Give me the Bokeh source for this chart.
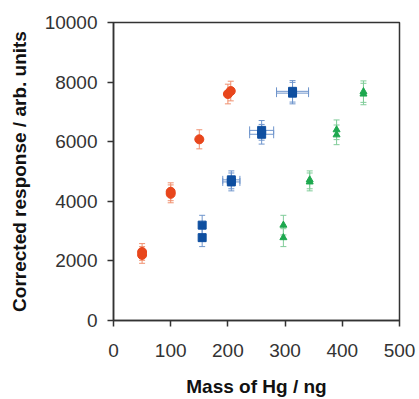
from bokeh.plotting import figure
from bokeh.models import ColumnDataSource, Whisker, TeeHead, FixedTicker, Range1d
from bokeh.embed import file_html
from bokeh.resources import INLINE

# Red circles
red_x = [50, 50, 100, 100, 150, 200, 205]
red_y = [2200, 2300, 4250, 4320, 6080, 7600, 7700]
red_ey = [280, 280, 300, 300, 320, 330, 330]
red_ex = [0, 0, 0, 0, 0, 0, 0]

# Blue squares
blue_x = [155, 155, 206, 206, 259, 259, 313, 313]
blue_y = [2780, 3200, 4650, 4720, 6250, 6380, 7630, 7690]
blue_ey = [300, 330, 300, 300, 330, 330, 360, 360]
blue_ex = [5, 5, 15, 15, 21, 21, 28, 28]

# Green triangles
green_x = [297, 297, 343, 343, 390, 390, 437, 437]
green_y = [2780, 3200, 4650, 4720, 6230, 6400, 7600, 7680]
green_ey = [300, 330, 300, 300, 330, 330, 360, 360]
green_ex = [0, 0, 0, 0, 0, 0, 0, 0]

x_ticks = [0, 100, 200, 300, 400, 500]
y_ticks = [0, 2000, 4000, 6000, 8000, 10000]

FONT = "Liberation Sans"

p = figure(width=419, height=399, output_backend="svg", toolbar_location=None,
           x_range=Range1d(0, 500), y_range=Range1d(0, 10000),
           min_border_left=113, min_border_right=20, min_border_top=22, min_border_bottom=78)

p.xgrid.visible = False
p.ygrid.visible = False
p.outline_line_color = "#333333"
p.outline_line_width = 1.5
p.background_fill_color = "white"
p.border_fill_color = "white"

for ax, ticks in ((p.xaxis, x_ticks), (p.yaxis, y_ticks)):
    ax.ticker = FixedTicker(ticks=ticks)
    ax.minor_tick_line_color = None
    ax.major_tick_in = 0
    ax.major_tick_out = 6
    ax.axis_line_color = "#333333"
    ax.axis_line_width = 1.5
    ax.major_tick_line_color = "#333333"
    ax.major_tick_line_width = 1.5
    ax.major_label_text_font = FONT
    ax.major_label_text_font_size = "19px"
    ax.major_label_text_color = "#333333"
    ax.axis_label_text_font = FONT
    ax.axis_label_text_font_size = "19px"
    ax.axis_label_text_font_style = "bold"
    ax.axis_label_text_color = "#111111"

p.xaxis.axis_label = "Mass of Hg / ng"
p.yaxis.axis_label = "Corrected response / arb. units"
p.xaxis.major_label_standoff = 17
p.yaxis.major_label_standoff = 10
p.xaxis.axis_label_standoff = 16
p.yaxis.axis_label_standoff = 12


def add_series(xs, ys, exs, eys, color, bar_color, marker, size):
    src = ColumnDataSource(dict(
        x=xs, y=ys,
        yl=[y - e for y, e in zip(ys, eys)], yu=[y + e for y, e in zip(ys, eys)],
        xl=[x - e for x, e in zip(xs, exs)], xu=[x + e for x, e in zip(xs, exs)],
    ))
    wy = Whisker(source=src, base="x", lower="yl", upper="yu", dimension="height",
                 line_color=bar_color, line_width=1,
                 upper_head=TeeHead(size=6, line_color=bar_color, line_width=1),
                 lower_head=TeeHead(size=6, line_color=bar_color, line_width=1))
    p.add_layout(wy)
    if any(exs):
        wx = Whisker(source=src, base="y", lower="xl", upper="xu", dimension="width",
                     line_color=bar_color, line_width=1,
                     upper_head=TeeHead(size=8, line_color=bar_color, line_width=1),
                     lower_head=TeeHead(size=8, line_color=bar_color, line_width=1))
        p.add_layout(wx)
    p.scatter("x", "y", source=src, marker=marker, size=size,
              fill_color=color, line_color=color)


add_series(red_x, red_y, red_ex, red_ey, "#E8461C", "#F0906F", "circle", 9)
add_series(blue_x, blue_y, blue_ex, blue_ey, "#0F4FA0", "#6F95CC", "square", 8)
add_series(green_x, green_y, green_ex, green_ey, "#1DA84E", "#80CC99", "triangle", 7)

open("out.html", "w").write(file_html(p, INLINE))
